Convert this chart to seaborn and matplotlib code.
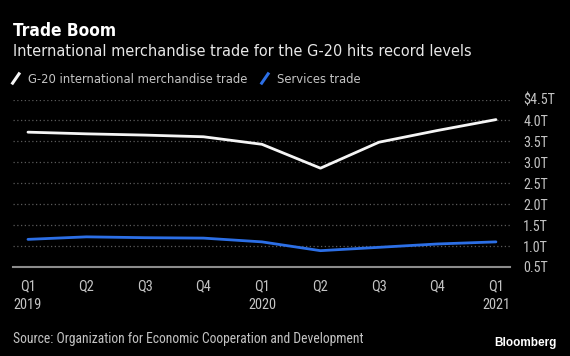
import matplotlib
matplotlib.use("Agg")
import matplotlib.pyplot as plt
from matplotlib.legend_handler import HandlerBase
from matplotlib.lines import Line2D
from matplotlib.font_manager import FontProperties
import seaborn as sns
import pandas as pd

# ---- data ----
quarters = ["Q1\n2019", "Q2", "Q3", "Q4", "Q1\n2020", "Q2", "Q3", "Q4", "Q1\n2021"]
merchandise = [3.72, 3.68, 3.65, 3.61, 3.43, 2.86, 3.48, 3.76, 4.02]
services = [1.16, 1.22, 1.20, 1.19, 1.10, 0.89, 0.97, 1.05, 1.10]
series_names = ["G-20 international merchandise trade", "Services trade"]
ytick_values = [0.5, 1.0, 1.5, 2.0, 2.5, 3.0, 3.5, 4.0, 4.5]
ytick_labels = ["0.5T", "1.0T", "1.5T", "2.0T", "2.5T", "3.0T", "3.5T", "4.0T", "$4.5T"]

df = pd.DataFrame({
    "idx": list(range(len(quarters))) * 2,
    "value": merchandise + services,
    "series": [series_names[0]] * len(quarters) + [series_names[1]] * len(quarters),
})

sns.set_theme(style="dark")
FONT = ["Roboto Condensed", "DejaVu Sans"]
plt.rcParams["font.family"] = FONT

BG = "#000000"
WHITE = "#f5f5f5"
BLUE = "#2c6fe6"
GRID = "#5a5a5a"
TXT = "#c4c4c4"

fig = plt.figure(figsize=(5.7, 3.56), dpi=100, facecolor=BG)
ax = fig.add_axes([13 / 570, 1 - 267 / 356, (510 - 13) / 570, (267 - 99.5) / 356])
ax.set_facecolor(BG)

sns.lineplot(data=df, x="idx", y="value", hue="series",
             palette={series_names[0]: WHITE, series_names[1]: BLUE},
             linewidth=2.0, ax=ax, legend=False)

ax.set_xlim(-0.256, 8.24)
ax.set_ylim(0.5, 4.5)

# grid
ax.set_yticks(ytick_values)
ax.set_yticklabels(ytick_labels)
ax.yaxis.tick_right()
ax.tick_params(axis="y", length=0, pad=9.5, labelsize=10.2, labelcolor=TXT)
for lab in ax.get_yticklabels():
    lab.set_horizontalalignment("left")
for v in ytick_values[1:]:
    ax.axhline(v, color=GRID, linestyle=(0, (1, 2)), linewidth=0.9, zorder=0)

ax.set_xticks(range(len(quarters)))
ax.set_xticklabels(quarters, linespacing=1.4)
ax.tick_params(axis="x", length=4, width=1, color="#8c8c8c", pad=5,
               labelsize=10.4, labelcolor=TXT)
ax.grid(False)

for s in ["top", "left", "right"]:
    ax.spines[s].set_visible(False)
ax.spines["bottom"].set_color("#8c8c8c")
ax.spines["bottom"].set_linewidth(1.5)
ax.set_xlabel("")
ax.set_ylabel("")


# legend with slash handles
class SlashHandler(HandlerBase):
    def create_artists(self, legend, orig_handle, xdescent, ydescent,
                       width, height, fontsize, trans):
        line = Line2D([width * 0.15 - xdescent, width * 0.85 - xdescent],
                      [-ydescent - 1, height - ydescent + 1],
                      color=orig_handle.get_color(), linewidth=2.2,
                      solid_capstyle="butt")
        line.set_transform(trans)
        return [line]


cond = dict(family="DejaVu Sans", stretch="condensed")
handles = [Line2D([], [], color=WHITE), Line2D([], [], color=BLUE)]
leg = fig.legend(handles, series_names, loc="upper left",
                 bbox_to_anchor=(10 / 570, 1 - 73 / 356), frameon=False, ncol=2,
                 handlelength=0.9, handletextpad=0.5, columnspacing=0.9,
                 handler_map={Line2D: SlashHandler()},
                 prop=FontProperties(size=9.3, **cond),
                 borderaxespad=0, borderpad=0)
for t in leg.get_texts():
    t.set_color(TXT)

# titles
fig.text(13 / 570, 1 - 36 / 356, "Trade Boom", color="white", fontsize=12.4,
         fontweight="bold", ha="left", va="baseline", **cond)
fig.text(13 / 570, 1 - 56 / 356,
         "International merchandise trade for the G-20 hits record levels",
         color="#e8e8e8", fontsize=11.6, ha="left", va="baseline", **cond)
fig.text(13 / 570, 1 - 343 / 356,
         "Source: Organization for Economic Cooperation and Development",
         color=TXT, fontsize=9.8, ha="left", va="baseline", family=FONT)
fig.text(557 / 570, 1 - 346 / 356, "Bloomberg", color="white", fontsize=8.5,
         fontweight="bold", ha="right", va="baseline",
         family=["Liberation Sans", "DejaVu Sans"])

fig.savefig("out.png", dpi=100, facecolor=BG)
